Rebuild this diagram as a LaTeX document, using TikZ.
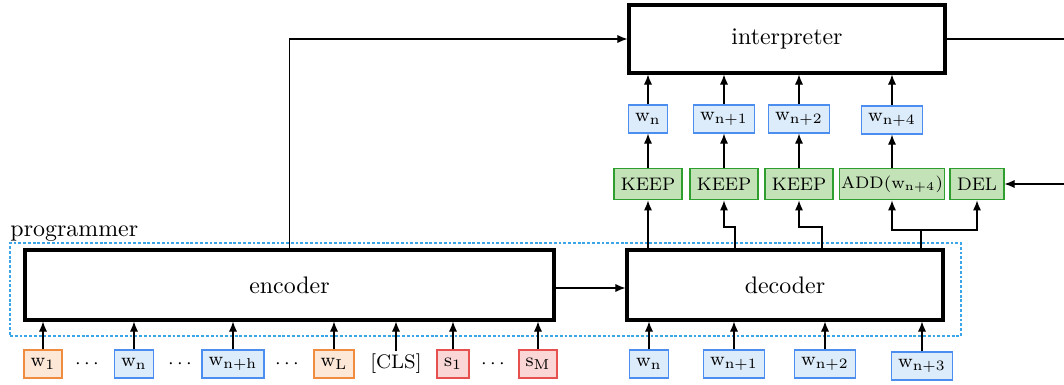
\documentclass[tikz,border=0pt]{standalone}
\usetikzlibrary{arrows.meta,calc}
\def\PX{0.4184pt}
\definecolor{bfill}{HTML}{DDECFB}
\definecolor{bdraw}{HTML}{4C8DF0}
\definecolor{ofill}{HTML}{FDE7D7}
\definecolor{odraw}{HTML}{F08C40}
\definecolor{rfill}{HTML}{FAD6D6}
\definecolor{rdraw}{HTML}{E6504E}
\definecolor{gfill}{HTML}{C4E2B8}
\definecolor{gdraw}{HTML}{2E9E2E}
\definecolor{pdash}{HTML}{3AA6E8}
\tikzset{
  bigbox/.style={draw=black, line width=1.3pt, fill=white, font=\fontsize{10}{12}\selectfont, inner sep=0pt},
  tok/.style={line width=0.75pt, font=\fontsize{8.2}{9.6}\selectfont, inner xsep=2.8pt, inner ysep=1.5pt, minimum height=11.5pt},
  btok/.style={tok, draw=bdraw, fill=bfill},
  otok/.style={tok, draw=odraw, fill=ofill},
  rtok/.style={tok, draw=rdraw, fill=rfill},
  gtok/.style={tok, draw=gdraw, fill=gfill, minimum height=13pt, inner xsep=2.8pt, font=\fontsize{7.6}{9}\selectfont},
  plain/.style={font=\fontsize{8.2}{9.6}\selectfont, inner sep=1pt},
  arr/.style={-{Latex[length=4.2pt,width=3.4pt]}, line width=0.45pt},
  ln/.style={line width=0.45pt},
  progbox/.style={draw=pdash, line width=0.55pt, dash pattern=on 1.2pt off 0.8pt, inner sep=0pt}
}
\begin{document}
\begin{tikzpicture}[x=\PX, y=-\PX]
\useasboundingbox (0,0) rectangle (1064,385);
% programmer box
\node[progbox, minimum width=951*\PX, minimum height=93*\PX] (prog) at (485.5,289.5) {};
\node[anchor=base west, inner sep=0pt, font=\fontsize{10}{12}\selectfont] (plabel) at (10,236) {programmer};
% big boxes
\node[bigbox, minimum width=529*\PX, minimum height=70*\PX] (enc) at (289.5,285) {encoder};
\node[bigbox, minimum width=316*\PX, minimum height=70*\PX] (dec) at (785,285) {decoder};
\node[bigbox, minimum width=316*\PX, minimum height=68*\PX] (interp) at (787,39) {interpreter};
% encoder inputs
\node[otok] (e1) at (43,364) {$\mathrm{w}_1$};
\node[plain] (d1) at (87,364) {$\cdots$};
\node[btok] (e2) at (134,364) {$\mathrm{w}_\mathrm{n}$};
\node[plain] (d2) at (180,364) {$\cdots$};
\node[btok] (e3) at (233,364) {$\mathrm{w}_\mathrm{n+h}$};
\node[plain] (d3) at (287,364) {$\cdots$};
\node[otok] (e4) at (334,364) {$\mathrm{w}_\mathrm{L}$};
\node[plain] (e5) at (396,364) {[CLS]};
\node[rtok] (e6) at (453,364) {$\mathrm{s}_1$};
\node[plain] (d4) at (493,364) {$\cdots$};
\node[rtok] (e7) at (538,364) {$\mathrm{s}_\mathrm{M}$};
\foreach \n in {e1,e2,e3,e4,e5,e6,e7}
  \draw[arr] (\n.north) -- (\n.north |- enc.south);
% decoder inputs
\node[btok] (f1) at (649,364) {$\mathrm{w}_\mathrm{n}$};
\node[btok] (f2) at (734,364) {$\mathrm{w}_\mathrm{n+1}$};
\node[btok] (f3) at (825,364) {$\mathrm{w}_\mathrm{n+2}$};
\node[btok] (f4) at (922,366) {$\mathrm{w}_\mathrm{n+3}$};
\foreach \n in {f1,f2,f3,f4}
  \draw[arr] (\n.north) -- (\n.north |- dec.south);
% encoder -> decoder, encoder -> interpreter
\draw[arr] (enc.east |- 0,288) -- (dec.west |- 0,288);
\draw[arr] (enc.north) |- (interp.west);
% operations
\node[gtok] (k1) at (648,184) {KEEP};
\node[gtok] (k2) at (724,184) {KEEP};
\node[gtok] (k3) at (799,184) {KEEP};
\node[gtok, inner xsep=0.6pt, font=\fontsize{7}{9}\selectfont] (k4) at (892,184) {ADD($\mathrm{w}_\mathrm{n+4}$)};
\node[gtok] (k5) at (977,184) {DEL};
% outputs
\node[btok] (g1) at (648,119) {$\mathrm{w}_\mathrm{n}$};
\node[btok] (g2) at (724,119) {$\mathrm{w}_\mathrm{n+1}$};
\node[btok] (g3) at (799,119) {$\mathrm{w}_\mathrm{n+2}$};
\node[btok] (g4) at (892,120) {$\mathrm{w}_\mathrm{n+4}$};
\foreach \a/\b in {k1/g1,k2/g2,k3/g3,k4/g4}
  \draw[arr] (\a.north) -- (\b.south);
\foreach \n in {g1,g2,g3,g4}
  \draw[arr] (\n.north) -- (\n.north |- interp.south);
% decoder -> operations
\coordinate (j2) at (735,227);
\coordinate (j3) at (822,227);
\coordinate (j4) at (921,230);
\draw[arr] (dec.north -| k1) -- (k1.south);
\draw[arr] (dec.north -| j2) -- (j2) -| (k2.south);
\draw[arr] (dec.north -| j3) -- (j3) -| (k3.south);
\draw[ln] (dec.north -| j4) -- (j4);
\draw[arr] (j4) -| (k4.south);
\draw[arr] (j4) -| (k5.south);
% feedback from interpreter (continues beyond frame)
\coordinate (fb) at (1090,100);
\draw[ln] (interp.east) -- (interp.east -| fb) -- (fb);
\draw[arr] (fb) |- (k5.east);
\end{tikzpicture}
\end{document}
